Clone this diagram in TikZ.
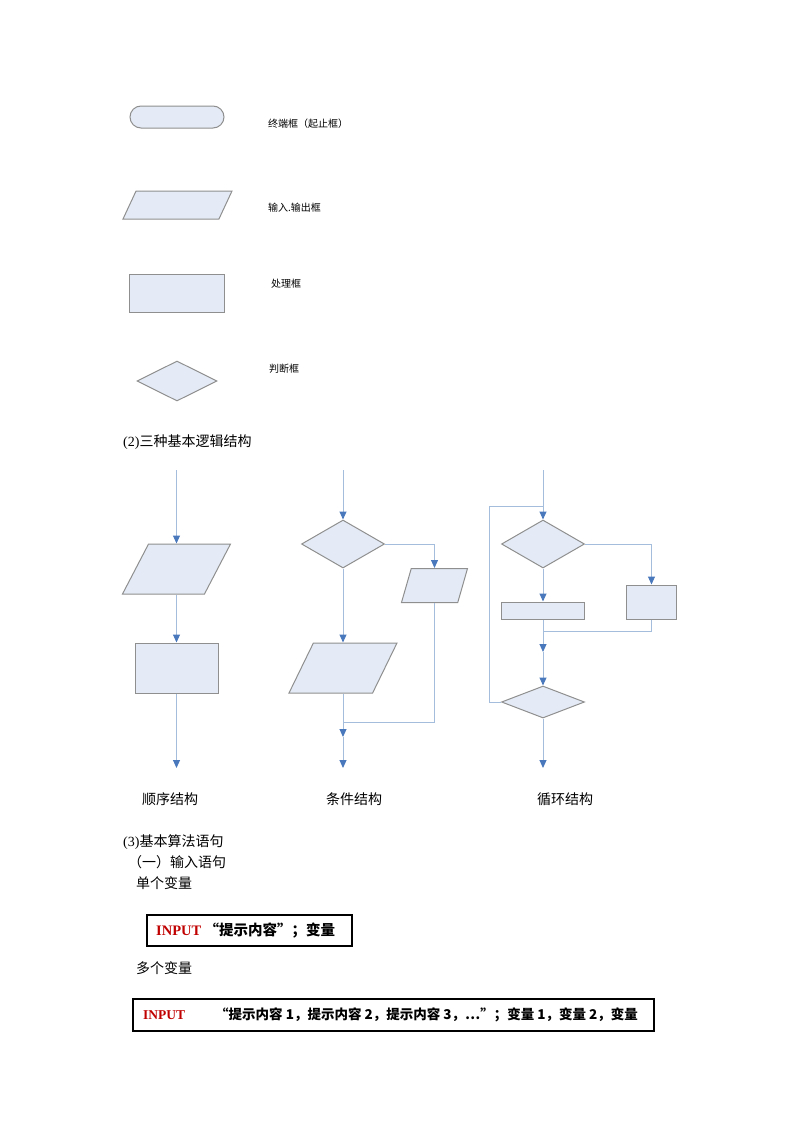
\documentclass[tikz,border=0pt]{standalone}
\usepackage{fontspec}
\setmainfont{Liberation Serif}
\newfontfamily\cjk{Noto Sans CJK SC}
\usetikzlibrary{shapes.geometric,arrows.meta}
\definecolor{boxfill}{HTML}{E4EBF6}
\definecolor{boxline}{HTML}{8F8F8F}
\definecolor{flowline}{HTML}{A5BDDC}
\definecolor{flowtip}{HTML}{4A78BC}
\definecolor{keyred}{HTML}{C00000}

\begin{document}
\begin{tikzpicture}[
    x=1pt, y=-1pt,
    box/.style={draw=boxline, fill=boxfill, line width=1pt, inner sep=0pt},
    terminal/.style={box, rectangle, rounded corners=11pt},
    process/.style={box, rectangle},
    decision/.style={box, diamond},
    io/.style n args={3}{box, trapezium, trapezium left angle=#1, trapezium right angle=#2, trapezium stretches body, inner xsep=0pt, inner ysep=#3},
    flow/.style={draw=flowline, line width=1pt, -{Triangle[color=flowtip,width=7pt,length=8pt]}},
    merge/.style={draw=flowline, line width=1pt},
    small label/.style={font=\cjk\fontsize{10pt}{12pt}\selectfont, anchor=west, inner sep=0pt},
    body text/.style={font=\cjk\fontsize{14pt}{17pt}\selectfont, anchor=west, inner sep=0pt},
    code box/.style={draw=black, line width=1.5pt, anchor=north west, inner sep=0pt},
    code text/.style={font=\cjk\bfseries\fontsize{13.5pt}{16pt}\selectfont, anchor=west, inner sep=0pt},
  ]
  \useasboundingbox (0,0) rectangle (800,1132);

  % symbols
  \node[terminal, minimum width=94pt, minimum height=22pt] (t1) at (177,117) {};
  \node[io={65}{115}{14pt}, minimum width=109pt] (t2) at (177.5,205) {};
  \node[process, minimum width=95pt, minimum height=38pt] (t3) at (176.5,293) {};
  \node[decision, minimum width=80pt, minimum height=40pt] (t4) at (177,381) {};
  \node[small label] (t1l) at (268,124) {终端框（起止框）};
  \node[small label] (t2l) at (268,208) {输入.输出框};
  \node[small label] (t3l) at (271,284) {处理框};
  \node[small label] (t4l) at (269,369) {判断框};

  \node[body text] (h2) at (123,442) {{\rmfamily (2)}三种基本逻辑结构};

  % sequence
  \coordinate (s0) at (176.5,470);
  \node[io={62.5}{117.5}{25pt}, minimum width=108pt] (s1) at (176.5,569) {};
  \node[process, minimum width=83pt, minimum height=50pt] (s2) at (176.5,668) {};
  \coordinate (s3) at (176.5,768);
  \draw[flow] (s0) -- (s1);
  \draw[flow] (s1) -- (s2);
  \draw[flow] (s2) -- (s3);

  % condition
  \coordinate (c0) at (343,470);
  \node[decision, minimum width=83pt, minimum height=48pt] (c1) at (343,544) {};
  \node[io={74}{106}{17pt}, minimum width=66pt] (c2) at (434.5,585.5) {};
  \node[io={64}{116}{25pt}, minimum width=108pt] (c3) at (343,668) {};
  \coordinate (c4) at (343,722);
  \coordinate (c5) at (343,737);
  \coordinate (c6) at (343,768);
  \draw[flow] (c0) -- (c1);
  \draw[flow] (c1.east) -| (c2.north);
  \draw[flow] (c1) -- (c3);
  \draw[merge] (c2.south) |- (c4);
  \draw[flow] (c3) -- (c5);
  \draw[flow] (c5) -- (c6);

  % loop
  \coordinate (l0) at (543,470);
  \node[decision, minimum width=83pt, minimum height=48pt] (l1) at (543,544) {};
  \node[process, minimum width=50pt, minimum height=34pt] (l2) at (651.5,602) {};
  \node[process, minimum width=83pt, minimum height=17pt] (l3) at (543,610.5) {};
  \coordinate (l4) at (543,631);
  \coordinate (l5) at (543,652);
  \node[decision, minimum width=83pt, minimum height=32pt] (l6) at (543,702) {};
  \coordinate (l7) at (543,506);
  \coordinate (l8) at (543,768);
  \coordinate (l9) at (489,506);
  \draw[flow] (l0) -- (l1);
  \draw[flow] (l1.east) -| (l2.north);
  \draw[flow] (l1) -- (l3);
  \draw[merge] (l2.south) |- (l4);
  \draw[flow] (l3) -- (l5);
  \draw[flow] (l5) -- (l6);
  \draw[merge] (l6.west) -| (l9) -- (l7);
  \draw[flow] (l6) -- (l8);

  \node[body text, anchor=center] (sl) at (170,799) {顺序结构};
  \node[body text, anchor=center] (cl) at (354,799) {条件结构};
  \node[body text, anchor=center] (ll) at (565,799) {循环结构};

  % statements
  \node[body text] (h3) at (123,842) {{\rmfamily (3)}基本算法语句};
  \node[body text] (h31) at (128,862) {（一）输入语句};
  \node[body text] (one) at (136,883) {单个变量};
  \node[code box, minimum width=205pt, minimum height=31pt] (in1) at (146,914) {};
  \node[code text, font=\cjk\bfseries\fontsize{14.5pt}{17pt}\selectfont] (in1t) at ([xshift=10pt]in1.west) {{\rmfamily\color{keyred}INPUT}\ “提示内容”；变量};
  \node[body text] (many) at (136,968) {多个变量};
  \node[code box, minimum width=521pt, minimum height=32pt] (in2) at (132,998) {};
  \node[code text] (in2t) at ([xshift=11pt]in2.west) {\makebox[72pt][l]{\rmfamily\color{keyred}INPUT}“提示内容 1，提示内容 2，提示内容 3，⋯”；变量 1，变量 2，变量};
\end{tikzpicture}
\end{document}
